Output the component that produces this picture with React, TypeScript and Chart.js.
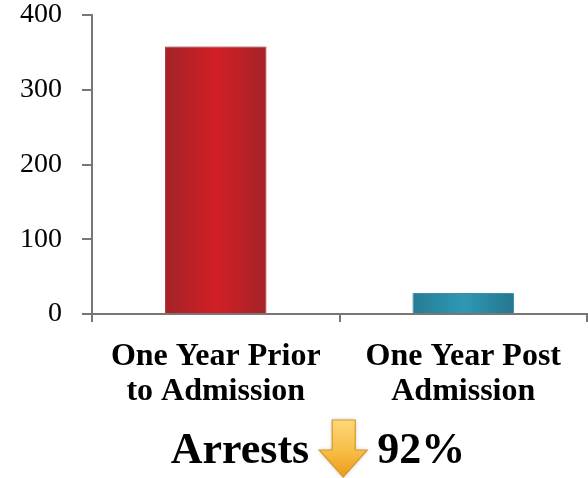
import React, { useEffect, useRef } from "react";
import { Chart, registerables } from "chart.js";

Chart.register(...registerables);

const categories: string[][] = [
  ["One Year Prior", "to Admission"],
  ["One Year Post", "Admission"],
];
const arrests: number[] = [358, 28];
const yTicks: number[] = [0, 100, 200, 300, 400];
const titleLeft = "Arrests";
const titleRight = "92%";

const barStops: string[][] = [
  ["#a32327", "#d11f25", "#a52327"],
  ["#267b93", "#2f98b5", "#25778e"],
];
const barBorders: string[] = ["#d23a3d", "#3fa4bf"];

const BAR_PCT = 0.41;
const SERIF = "'Liberation Serif', 'Times New Roman', serif";

export default function App() {
  const ref = useRef<HTMLCanvasElement | null>(null);

  useEffect(() => {
    document.body.style.margin = "0";
    const canvas = ref.current;
    if (!canvas) return;

    const shadowPlugin = {
      id: "barShadow",
      beforeDatasetsDraw(chart: any) {
        const c = chart.ctx;
        c.save();
        c.shadowColor = "rgba(0,0,0,0.28)";
        c.shadowBlur = 8;
        c.shadowOffsetX = 0;
        c.shadowOffsetY = 0;
      },
      afterDatasetsDraw(chart: any) {
        chart.ctx.restore();
      },
    };

    const titlePlugin = {
      id: "bottomTitle",
      afterDraw(chart: any) {
        const c = chart.ctx as CanvasRenderingContext2D;
        c.save();
        c.font = `bold 44px ${SERIF}`;
        c.fillStyle = "#000";
        c.textBaseline = "alphabetic";
        const wl = c.measureText(titleLeft).width;
        const wr = c.measureText(titleRight).width;
        const gap1 = 10;
        const arrowW = 48;
        const gap2 = 10;
        const total = wl + gap1 + arrowW + gap2 + wr;
        const startX = 318 - total / 2;
        const baseline = 463;
        c.fillText(titleLeft, startX, baseline);
        const ax = startX + wl + gap1;
        c.fillText(titleRight, ax + arrowW + gap2, baseline);
        // arrow
        const top = 420;
        const headY = 450;
        const tip = 477;
        const shaftL = ax + 13;
        const shaftR = ax + arrowW - 12;
        const g = c.createLinearGradient(0, top, 0, tip);
        g.addColorStop(0, "#fdd779");
        g.addColorStop(0.55, "#f8bd45");
        g.addColorStop(1, "#eb9b1c");
        c.beginPath();
        c.moveTo(shaftL, top);
        c.lineTo(shaftR, top);
        c.lineTo(shaftR, headY);
        c.lineTo(ax + arrowW, headY);
        c.lineTo(ax + arrowW / 2, tip);
        c.lineTo(ax, headY);
        c.lineTo(shaftL, headY);
        c.closePath();
        c.shadowColor = "rgba(0,0,0,0.25)";
        c.shadowBlur = 4;
        c.fillStyle = g;
        c.fill();
        c.shadowBlur = 0;
        c.strokeStyle = "#d99a26";
        c.lineWidth = 1.2;
        c.stroke();
        c.restore();
      },
    };

    const chart = new Chart(canvas, {
      type: "bar",
      data: {
        labels: categories,
        datasets: [
          {
            data: arrests,
            barPercentage: BAR_PCT,
            categoryPercentage: 1,
            borderWidth: 1,
            borderColor: barBorders,
            backgroundColor: (ctx: any) => {
              const i = ctx.dataIndex;
              const chart = ctx.chart;
              const area = chart.chartArea;
              const xs = chart.scales && chart.scales.x;
              if (i === undefined || !area || !xs) return barStops[0][1];
              const cx = xs.getPixelForValue(i);
              const half = ((area.width / categories.length) * BAR_PCT) / 2;
              const g = chart.ctx.createLinearGradient(cx - half, 0, cx + half, 0);
              const s = barStops[i % barStops.length];
              g.addColorStop(0, s[0]);
              g.addColorStop(0.5, s[1]);
              g.addColorStop(1, s[2]);
              return g;
            },
          },
        ],
      },
      options: {
        responsive: false,
        animation: false,
        layout: { padding: { top: 15, right: 1, left: 0, bottom: 0 } },
        plugins: {
          legend: { display: false },
          tooltip: { enabled: false },
          title: { display: false },
        },
        scales: {
          x: {
            afterFit: (s: any) => {
              s.height = 164;
              s.paddingLeft = 0;
              s.paddingRight = 0;
            },
            grid: {
              offset: true,
              drawOnChartArea: false,
              drawTicks: true,
              tickLength: 8,
              color: "#777",
              lineWidth: 2,
            },
            border: { display: true, color: "#777", width: 2 },
            ticks: {
              color: "#000",
              padding: 17,
              maxRotation: 0,
              autoSkip: false,
              font: { family: SERIF, size: 32, weight: "bold", lineHeight: 1.1 },
            },
          },
          y: {
            min: 0,
            max: 400,
            afterFit: (s: any) => {
              s.width = 92;
              s.paddingTop = 0;
              s.paddingBottom = 0;
            },
            afterBuildTicks: (s: any) => {
              s.ticks = yTicks.map((v) => ({ value: v }));
            },
            grid: {
              drawOnChartArea: false,
              drawTicks: true,
              tickLength: 10,
              color: "#777",
              lineWidth: 2,
            },
            border: { display: true, color: "#777", width: 2 },
            ticks: {
              color: "#000",
              padding: 20,
              font: { family: SERIF, size: 28 },
            },
          },
        },
      },
      plugins: [shadowPlugin, titlePlugin],
    } as any);

    return () => chart.destroy();
  }, []);

  return (
    <div style={{ width: 588, height: 478 }}>
      <canvas ref={ref} width={588} height={478} style={{ display: "block" }} />
    </div>
  );
}
